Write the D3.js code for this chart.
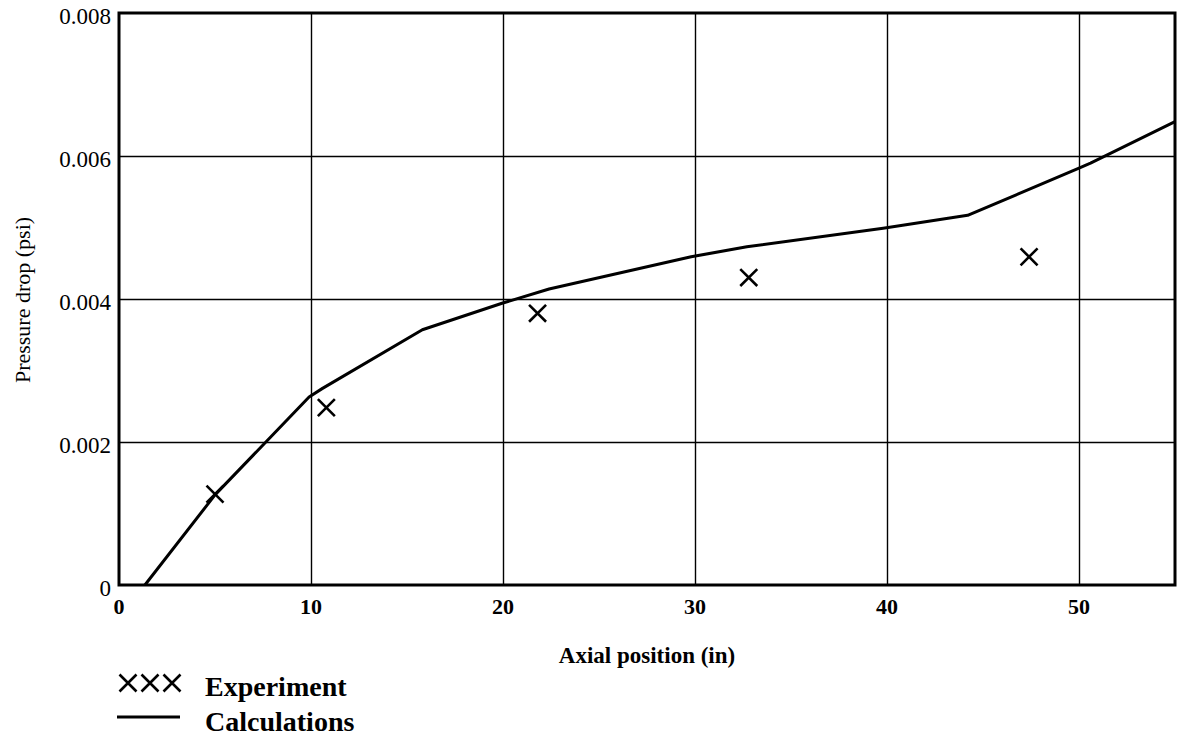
<!DOCTYPE html>
<html>
<head>
<meta charset="utf-8">
<script src="https://cdn.jsdelivr.net/npm/d3@7"></script>
<style>
  html, body { margin: 0; padding: 0; background: #fff; }
  svg { display: block; }
</style>
</head>
<body>
<svg id="chart" width="1179" height="740"></svg>
<script>
// Measured pressure drop along the test section
const expPosition = [5.0, 10.8, 21.8, 32.8, 47.4];
const expPressure = [0.00127, 0.00248, 0.0038, 0.0043, 0.00459];

// Calculated pressure drop profile
const calcPosition = [1.35, 5.0, 9.9, 10.6, 15.8, 19.95, 22.4, 29.8, 32.7, 39.8, 44.2, 50.0, 50.6, 55.0];
const calcPressure = [0, 0.00126, 0.00263, 0.00275, 0.00357, 0.00394, 0.00414, 0.00459, 0.00473, 0.00499, 0.00517, 0.00583, 0.0059, 0.00648];

const xTicks = [0, 10, 20, 30, 40, 50];
const yTicks = [0, 0.002, 0.004, 0.006, 0.008];
const yTickLabels = ["0", "0.002", "0.004", "0.006", "0.008"];

const svg = d3.select("#chart");
const plotLeft = 119, plotRight = 1175, plotTop = 13, plotBottom = 585;

const x = d3.scaleLinear().domain([0, 55]).range([plotLeft, plotRight]);
const y = d3.scaleLinear().domain([0, 0.008]).range([plotBottom, plotTop]);

// grid
const gx = svg.append("g").attr("transform", `translate(0,${plotBottom})`)
  .call(d3.axisBottom(x).tickValues(xTicks.filter(d => d > 0)).tickSize(-(plotBottom - plotTop)).tickFormat(""));
gx.select(".domain").remove();
gx.selectAll(".tick line").attr("stroke", "#000").attr("stroke-width", 1.4);

const gy = svg.append("g").attr("transform", `translate(${plotLeft},0)`)
  .call(d3.axisLeft(y).tickValues(yTicks.filter(d => d > 0 && d < 0.008)).tickSize(-(plotRight - plotLeft)).tickFormat(""));
gy.select(".domain").remove();
gy.selectAll(".tick line").attr("stroke", "#000").attr("stroke-width", 1.4);

// frame
svg.append("rect")
  .attr("x", plotLeft).attr("y", plotTop)
  .attr("width", plotRight - plotLeft).attr("height", plotBottom - plotTop)
  .attr("fill", "none").attr("stroke", "#000").attr("stroke-width", 3);

// tick labels
svg.append("g").selectAll("text").data(xTicks).join("text")
  .attr("x", d => x(d)).attr("y", 614)
  .attr("text-anchor", "middle")
  .attr("font-family", "'Liberation Serif', serif")
  .attr("font-weight", "bold")
  .attr("font-size", 22)
  .text(d => d);

svg.append("g").selectAll("text").data(yTicks).join("text")
  .attr("x", 111).attr("y", d => y(d) + 11)
  .attr("text-anchor", "end")
  .attr("font-family", "'Liberation Serif', serif")
  .attr("font-size", 23)
  .text((d, i) => yTickLabels[i]);

// axis titles
svg.append("text")
  .attr("x", (plotLeft + plotRight) / 2).attr("y", 663)
  .attr("text-anchor", "middle")
  .attr("font-family", "'Liberation Serif', serif")
  .attr("font-size", 23)
  .attr("font-weight", "600")
  .text("Axial position (in)");

svg.append("text")
  .attr("transform", "translate(30,300) rotate(-90)")
  .attr("text-anchor", "middle")
  .attr("font-family", "'Liberation Serif', serif")
  .attr("font-size", 22)
  .text("Pressure drop (psi)");

// calculated curve
const line = d3.line().x(d => x(d[0])).y(d => y(d[1]));
svg.append("path")
  .datum(calcPosition.map((p, i) => [p, calcPressure[i]]))
  .attr("d", line)
  .attr("fill", "none").attr("stroke", "#000")
  .attr("stroke-width", 3).attr("stroke-linejoin", "round");

// experimental markers
const cross = d3.symbol().type(d3.symbolTimes).size(190);
svg.append("g").selectAll("path")
  .data(expPosition.map((p, i) => [p, expPressure[i]]))
  .join("path")
  .attr("transform", d => `translate(${x(d[0])},${y(d[1])})`)
  .attr("d", cross)
  .attr("fill", "none").attr("stroke", "#000").attr("stroke-width", 2.6);

// legend
const legend = svg.append("g");
legend.selectAll("path.lx").data([0, 1, 2]).join("path")
  .attr("class", "lx")
  .attr("transform", d => `translate(${128 + d * 22},683)`)
  .attr("d", cross)
  .attr("fill", "none").attr("stroke", "#000").attr("stroke-width", 2.6);
legend.append("line")
  .attr("x1", 117).attr("x2", 180).attr("y1", 717).attr("y2", 717)
  .attr("stroke", "#000").attr("stroke-width", 3);
legend.append("text")
  .attr("x", 205).attr("y", 696)
  .attr("font-family", "'Liberation Serif', serif")
  .attr("font-weight", "bold").attr("font-size", 28)
  .text("Experiment");
legend.append("text")
  .attr("x", 205).attr("y", 731)
  .attr("font-family", "'Liberation Serif', serif")
  .attr("font-weight", "bold").attr("font-size", 28)
  .text("Calculations");
</script>
</body>
</html>
